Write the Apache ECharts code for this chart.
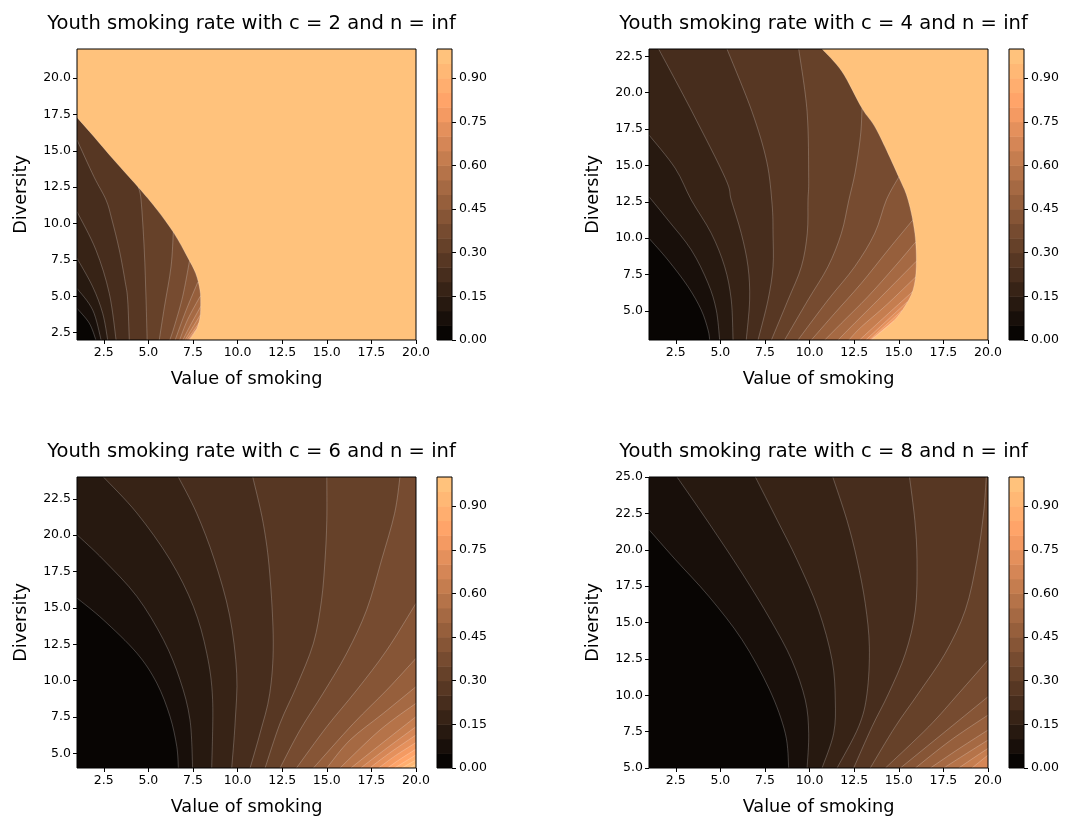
<!DOCTYPE html>
<html><head><meta charset="utf-8">
<script src="https://cdn.jsdelivr.net/npm/echarts@6/dist/echarts.min.js"></script>
<style>html,body{margin:0;padding:0;background:#fff}#c{width:1067px;height:821px}</style>
</head><body><div id="c"></div>
<script>
// ---------------- DATA ----------------
const costValues = [2, 4, 6, 8];
const xRange = [1, 20];
const yRangeC2 = [2, 22];
const yRangeC4 = [3, 23];
const yRangeC6 = [4, 24];
const yRangeC8 = [5, 25];
const xTicks = [2.5, 5, 7.5, 10, 12.5, 15, 17.5, 20];
const yTicksC2 = [2.5, 5, 7.5, 10, 12.5, 15, 17.5, 20];
const yTicksC4 = [5, 7.5, 10, 12.5, 15, 17.5, 20, 22.5];
const yTicksC6 = [5, 7.5, 10, 12.5, 15, 17.5, 20, 22.5];
const yTicksC8 = [5, 7.5, 10, 12.5, 15, 17.5, 20, 22.5, 25];
const cbLevels = [0,0.05,0.1,0.15,0.2,0.25,0.3,0.35,0.4,0.45,0.5,0.55,0.6,0.65,0.7,0.75,0.8,0.85,0.9,0.95,1];
const cbTicks = [0, 0.15, 0.3, 0.45, 0.6, 0.75, 0.9];

// contour boundaries: [level, [[value of smoking, diversity], ...]]
const c2Contours = [
  [0.05, [[1,4.18],[1.69,3.15],[2.06,2]]],
  [0.10, [[1,5.55],[1.88,4.06],[2.35,2]]],
  [0.15, [[1,7.62],[1.88,5.66],[2.44,3.83],[2.72,2]]],
  [0.20, [[1,10.82],[2.06,8.19],[2.81,5.2],[3.19,2]]],
  [0.25, [[1,15.75],[1.95,13.22],[2.63,11.62],[2.95,10.3],[3.37,8.19],[3.7,6.0],[3.84,4.75],[3.93,2]]],
  [0.30, [[20,12.5],[4.43,12.5],[4.59,11.62],[4.77,8.19],[4.87,4.75],[4.93,2]]],
  [0.35, [[20,9.44],[6.4,9.44],[6.27,7.04],[5.9,4.29],[5.61,2]]],
  [0.40, [[20,7.4],[7.3,7.4],[6.92,4.98],[6.45,2.92],[6.2,2]]],
  [0.45, [[20,5.95],[7.76,5.95],[7.1,4.0],[6.5,2]]],
  [0.50, [[20,5.0],[7.9,5.0],[7.2,3.4],[6.75,2]]],
  [0.55, [[20,4.3],[7.93,4.3],[7.35,3.0],[6.93,2]]],
  [0.60, [[20,3.7],[7.9,3.7],[7.4,2.7],[7.05,2]]],
  [0.65, [[20,3.2],[7.85,3.2],[7.45,2.5],[7.15,2]]],
  [0.70, [[20,2.7],[7.66,2.7],[7.25,2]]],
  [0.95, [[1,17.3],[1.95,15.97],[3.07,14.37],[4.57,12.31],[5.5,10.93],[6.44,9.33],[7.18,7.73],[7.65,6.58],[7.89,5.44],[7.93,4.5],[7.9,3.6],[7.75,2.9],[7.56,2.46],[7.3,2]]]
];
const c4Contours = [
  [0.05, [[1,9.99],[2.06,8.5],[3.19,6.66],[3.93,5.06],[4.31,3.69],[4.4,3]]],
  [0.10, [[1,12.85],[2.06,11.25],[3.37,9.19],[4.31,6.9],[4.77,5.06],[4.96,3]]],
  [0.15, [[1,17.09],[2.47,14.8],[3.37,12.62],[4.49,10.33],[5.24,8.04],[5.61,5.75],[5.71,3]]],
  [0.20, [[1.54,23],[3.41,18.69],[5.28,14.11],[5.61,12.62],[6.17,10.33],[6.55,8.04],[6.64,5.75],[6.45,3]]],
  [0.25, [[5.37,23],[6.77,18.7],[7.6,15.25],[7.9,12.3],[7.95,10.33],[7.95,8.04],[7.67,5.75],[7.11,3]]],
  [0.30, [[9.39,23],[9.86,18.7],[9.95,14.1],[9.91,12.62],[9.87,10.33],[9.54,8.04],[8.79,5.75],[7.86,3]]],
  [0.35, [[20,18.92],[12.94,18.92],[12.85,17],[12.55,14.5],[12.2,12.62],[11.78,10.33],[11.03,8.04],[9.91,5.75],[8.6,3]]],
  [0.40, [[20,14.2],[15.0,14.2],[14.3,12.62],[13.65,10.33],[12.53,8.04],[11.03,5.75],[9.35,3]]],
  [0.45, [[20,11.2],[15.75,11.2],[14.4,9.19],[12.9,6.9],[11.41,4.84],[10.1,3]]],
  [0.50, [[20,9.7],[15.92,9.7],[14.77,8.04],[13.27,5.98],[11.78,4.15],[10.85,3]]],
  [0.55, [[20,8.4],[15.97,8.4],[14.02,5.98],[12.4,4.0],[11.6,3]]],
  [0.60, [[20,7.3],[15.92,7.3],[14.3,5.4],[12.9,3.9],[12.2,3]]],
  [0.65, [[20,6.3],[15.75,6.3],[14.4,4.8],[12.8,3]]],
  [0.70, [[20,5.6],[15.45,5.6],[14.3,4.3],[13.15,3]]],
  [0.75, [[20,5.0],[15.15,5.0],[13.35,3]]],
  [0.80, [[20,4.3],[14.7,4.3],[13.42,3]]],
  [0.95, [[10.7,23],[11.82,21.44],[12.94,18.92],[13.76,17.43],[15.0,14.2],[15.52,12.62],[15.9,10.33],[15.98,8.04],[15.8,6.44],[15.33,5.29],[14.77,4.38],[14.02,3.57],[13.46,3]]]
];
const c6Contours = [
  [0.05, [[1,15.68],[2.47,14.19],[4.35,11.9],[5.47,9.84],[6.21,7.55],[6.59,5.49],[6.68,4]]],
  [0.10, [[1,20.03],[2.47,18.32],[4.35,15.8],[5.84,12.82],[6.77,10.07],[7.33,7.32],[7.48,4]]],
  [0.15, [[2.48,24],[4.35,21.53],[6.21,18.32],[7.52,15.11],[8.27,11.9],[8.6,8.7],[8.55,4]]],
  [0.20, [[6.68,24],[7.71,21.5],[8.7,18.3],[9.55,14.5],[9.95,10.5],[9.86,7.1],[9.67,4]]],
  [0.25, [[10.85,24],[11.44,20.8],[11.8,17.4],[12.0,12.6],[11.8,9.1],[11.26,6.4],[10.7,4]]],
  [0.30, [[15.0,24],[15.0,21],[14.9,18.3],[14.7,15.5],[14.25,12.57],[13.3,9.6],[12.38,7.07],[11.54,4]]],
  [0.35, [[19.1,24],[18.8,21.5],[18.07,18.3],[17.23,14.86],[16.12,11.9],[14.8,9.15],[13.5,6.61],[12.38,4]]],
  [0.40, [[20,15.32],[18.36,12.1],[16.68,9.36],[15.0,6.84],[13.3,4]]],
  [0.45, [[20,11.54],[18.36,9.36],[16.5,7.07],[14.25,4]]],
  [0.50, [[20,9.59],[18.17,7.76],[16.3,5.92],[15.0,4]]],
  [0.55, [[20,8.45],[17.98,6.61],[15.74,4]]],
  [0.60, [[20,7.53],[18.2,5.8],[16.35,4]]],
  [0.65, [[20,6.84],[18.4,5.4],[16.9,4]]],
  [0.70, [[20,6.27],[18.6,5.1],[17.4,4]]],
  [0.75, [[20,5.75],[18.85,4.85],[17.9,4]]],
  [0.80, [[20,5.3],[19.1,4.6],[18.4,4]]],
  [0.85, [[20,4.9],[18.8,4]]],
  [0.90, [[20,4.55],[19.2,4]]],
  [0.95, [[20,4.25],[19.6,4]]]
];
const c8Contours = [
  [0.05, [[1,21.38],[2.48,19.32],[4.35,16.8],[6.21,13.82],[7.75,10.4],[8.64,7.38],[8.83,5]]],
  [0.10, [[2.57,25],[4.35,21.84],[6.21,18.4],[7.8,15.2],[9.0,12.42],[9.76,9.67],[9.95,7.38],[9.86,5]]],
  [0.15, [[6.96,25],[8.2,22],[9.3,19.3],[10.5,15.86],[11.26,12.42],[11.44,9.67],[11.35,7.38],[10.7,5]]],
  [0.20, [[11.3,25],[12.1,22],[12.66,19.3],[13.12,16.3],[13.35,13.34],[13.22,10.13],[12.75,7.84],[11.54,5]]],
  [0.25, [[15.6,25],[15.9,22],[16.02,19.3],[15.93,15.86],[15.37,12.88],[14.43,10.13],[13.5,7.84],[12.47,5]]],
  [0.30, [[19.9,25],[19.75,22.5],[19.38,19.3],[18.73,15.86],[17.6,12.88],[16.1,10.13],[14.8,7.84],[13.4,5]]],
  [0.35, [[20,12.42],[18.36,10.13],[16.68,7.84],[14.25,5]]],
  [0.40, [[20,9.9],[17.7,7.6],[15.09,5]]],
  [0.45, [[20,8.64],[17.9,6.9],[15.93,5]]],
  [0.50, [[20,7.61],[18.4,6.35],[16.77,5]]],
  [0.55, [[20,6.92],[18.8,6.0],[17.52,5]]],
  [0.60, [[20,6.35],[19.2,5.7],[18.36,5]]],
  [0.65, [[20,5.89],[19.1,5]]]
];

// ---------------- STYLE / LAYOUT ----------------
const FONT = 'DejaVu Sans';
const panels = [
  {c: costValues[0], curves: c2Contours, yr: yRangeC2, yt: yTicksC2, left: 77,  top: 49},
  {c: costValues[1], curves: c4Contours, yr: yRangeC4, yt: yTicksC4, left: 649, top: 49},
  {c: costValues[2], curves: c6Contours, yr: yRangeC6, yt: yTicksC6, left: 77,  top: 477},
  {c: costValues[3], curves: c8Contours, yr: yRangeC8, yt: yTicksC8, left: 649, top: 477}
];
const PW = 339, PH = 291, CBW = 15, CBGAP = 21;

function copper(v) {
  const r = Math.min(1, v / 0.809524), g = 0.7812 * v, b = 0.4975 * v;
  return 'rgb(' + Math.round(r*255) + ',' + Math.round(g*255) + ',' + Math.round(b*255) + ')';
}
function bandColor(k) { return copper((k + 0.5) / 20); }

function perimT(p, xr, yr) {
  const e = 1e-9, W = xr[1]-xr[0], H = yr[1]-yr[0];
  if (Math.abs(p[1]-yr[0]) < e) return (p[0]-xr[0]) / W;
  if (Math.abs(p[0]-xr[1]) < e) return 1 + (p[1]-yr[0]) / H;
  if (Math.abs(p[1]-yr[1]) < e) return 2 + (xr[1]-p[0]) / W;
  return 3 + (yr[1]-p[1]) / H;
}
function closure(pts, xr, yr) {
  const corners = [[xr[1],yr[0]],[xr[1],yr[1]],[xr[0],yr[1]],[xr[0],yr[0]]];
  const tS = perimT(pts[0], xr, yr), tE = perimT(pts[pts.length-1], xr, yr);
  let target = tS; if (target <= tE) target += 4;
  const out = [];
  for (let c = 1; c < 8; c++) if (c > tE && c < target) out.push(corners[(c-1) % 4]);
  return out;
}
function f2(v) { return v.toFixed(2); }
function curvePath(px, startLine) {
  let d = 'M' + f2(px[0][0]) + ' ' + f2(px[0][1]);
  let q = px;
  if (startLine) { d += 'L' + f2(px[1][0]) + ' ' + f2(px[1][1]); q = px.slice(1); }
  for (let i = 0; i < q.length - 1; i++) {
    const p0 = q[Math.max(i-1,0)], p1 = q[i], p2 = q[i+1], p3 = q[Math.min(i+2, q.length-1)];
    const c1 = [p1[0] + (p2[0]-p0[0]) / 6, p1[1] + (p2[1]-p0[1]) / 6];
    const c2 = [p2[0] - (p3[0]-p1[0]) / 6, p2[1] - (p3[1]-p1[1]) / 6];
    d += 'C' + f2(c1[0]) + ' ' + f2(c1[1]) + ' ' + f2(c2[0]) + ' ' + f2(c2[1]) + ' ' + f2(p2[0]) + ' ' + f2(p2[1]);
  }
  return d;
}

function contourRender(curves, xr, yr) {
  return function (params, api) {
    const i = params.dataIndex;
    if (i === 0) {
      const a = api.coord([xr[0], yr[1]]), b = api.coord([xr[1], yr[0]]);
      return {type: 'rect', shape: {x: a[0], y: a[1], width: b[0]-a[0], height: b[1]-a[1]},
              style: {fill: bandColor(0)}, z2: 0};
    }
    const cv = curves[i-1];
    const k = Math.round(cv[0] / 0.05);
    const pts = cv[1];
    const px = pts.map(p => api.coord(p));
    const startLine = pts.length > 2 && pts[0][0] === xr[1] && pts[0][1] === pts[1][1];
    const line = curvePath(px, startLine);
    let fill = line;
    closure(pts, xr, yr).forEach(c => { const p = api.coord(c); fill += 'L' + f2(p[0]) + ' ' + f2(p[1]); });
    fill += 'Z';
    return {type: 'group', children: [
      {type: 'path', shape: {pathData: fill}, style: {fill: bandColor(k), stroke: null}, z2: i*2},
      {type: 'path', shape: {pathData: line}, style: {fill: null, stroke: 'rgba(255,255,255,0.38)', lineWidth: 0.6}, z2: i*2+1}
    ]};
  };
}
function frameRender(xr, yr) {
  return function (params, api) {
    const a = api.coord([xr[0], yr[1]]), b = api.coord([xr[1], yr[0]]);
    return {type: 'rect', shape: {x: a[0], y: a[1], width: b[0]-a[0], height: b[1]-a[1]},
            style: {fill: null, stroke: '#000', lineWidth: 1}};
  };
}

const grids = [], xAxes = [], yAxes = [], series = [], titles = [];
panels.forEach((P, pi) => {
  const gi = pi * 2, ci = pi * 2 + 1;
  grids.push({left: P.left, top: P.top, width: PW, height: PH, containLabel: false});
  grids.push({left: P.left + PW + CBGAP, top: P.top, width: CBW, height: PH, containLabel: false});
  titles.push({text: 'Youth smoking rate with c = ' + P.c + ' and n = inf',
    left: P.left + PW / 2, top: P.top - 40, textAlign: 'center',
    textStyle: {fontFamily: FONT, fontSize: 19.5, fontWeight: 'normal', color: '#000'}});
  xAxes.push({gridIndex: gi, type: 'value', min: xRange[0], max: xRange[1], z: 10,
    axisLine: {show: false, onZero: false}, splitLine: {show: false},
    axisTick: {show: true, length: 4, customValues: xTicks, lineStyle: {color: '#000', width: 1}},
    axisLabel: {customValues: xTicks, formatter: v => v.toFixed(1), fontFamily: FONT, fontSize: 12.5, color: '#000', margin: 6},
    name: 'Value of smoking', nameLocation: 'middle', nameGap: 30,
    nameTextStyle: {fontFamily: FONT, fontSize: 17.7, color: '#000'}});
  yAxes.push({gridIndex: gi, type: 'value', min: P.yr[0], max: P.yr[1], z: 10,
    axisLine: {show: false, onZero: false}, splitLine: {show: false},
    axisTick: {show: true, length: 4, customValues: P.yt, lineStyle: {color: '#000', width: 1}},
    axisLabel: {customValues: P.yt, formatter: v => v.toFixed(1), fontFamily: FONT, fontSize: 12.5, color: '#000', margin: 6},
    name: 'Diversity', nameLocation: 'middle', nameGap: 47, nameRotate: 90,
    nameTextStyle: {fontFamily: FONT, fontSize: 17.7, color: '#000'}});
  xAxes.push({gridIndex: ci, type: 'value', min: 0, max: 1, show: false});
  yAxes.push({gridIndex: ci, type: 'value', min: 0, max: 1, position: 'right', z: 10,
    axisLine: {show: false, onZero: false}, splitLine: {show: false},
    axisTick: {show: true, length: 4, customValues: cbTicks, lineStyle: {color: '#000', width: 1}},
    axisLabel: {customValues: cbTicks, formatter: v => v.toFixed(2), fontFamily: FONT, fontSize: 12.5, color: '#000', margin: 7}});

  const data = [[xRange[0], P.yr[0]]].concat(P.curves.map(c => c[1][0]));
  series.push({type: 'custom', coordinateSystem: 'cartesian2d', xAxisIndex: gi, yAxisIndex: gi,
    clip: true, silent: true, z: 2, renderItem: contourRender(P.curves, xRange, P.yr), data: data});
  series.push({type: 'custom', coordinateSystem: 'cartesian2d', xAxisIndex: gi, yAxisIndex: gi,
    clip: false, silent: true, z: 5, renderItem: frameRender(xRange, P.yr), data: [[xRange[0], P.yr[0]]]});
  series.push({type: 'custom', coordinateSystem: 'cartesian2d', xAxisIndex: ci, yAxisIndex: ci,
    clip: true, silent: true, z: 2,
    renderItem: function (params, api) {
      const i = params.dataIndex;
      const a = api.coord([0, cbLevels[i+1]]), b = api.coord([1, cbLevels[i]]);
      return {type: 'rect', shape: {x: a[0], y: a[1], width: b[0]-a[0], height: b[1]-a[1] + 0.5},
              style: {fill: bandColor(i)}};
    },
    data: cbLevels.slice(0, -1).map(v => [0.5, v])});
  series.push({type: 'custom', coordinateSystem: 'cartesian2d', xAxisIndex: ci, yAxisIndex: ci,
    clip: false, silent: true, z: 5, renderItem: frameRender([0, 1], [0, 1]), data: [[0, 0]]});
});

const chart = echarts.init(document.getElementById('c'), null, {renderer: 'canvas'});
chart.setOption({
  animation: false,
  backgroundColor: '#fff',
  title: titles,
  grid: grids,
  xAxis: xAxes,
  yAxis: yAxes,
  series: series
});
</script></body></html>
